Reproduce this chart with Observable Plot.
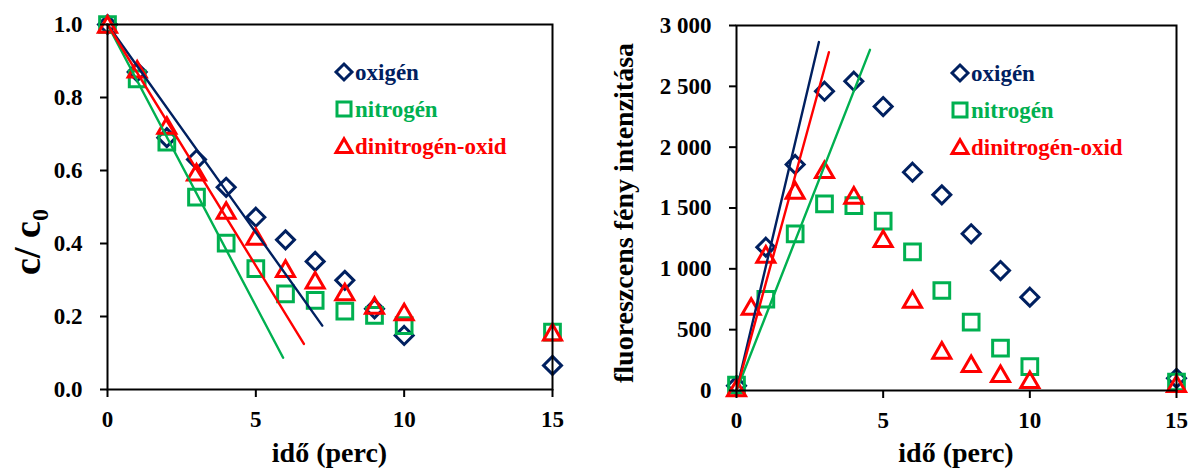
<!DOCTYPE html>
<html><head><meta charset="utf-8">
<script src="https://cdn.jsdelivr.net/npm/d3@7"></script>
<script src="https://cdn.jsdelivr.net/npm/@observablehq/plot@0.6"></script>
<style>
body{margin:0;background:#fff;}
#wrap{position:relative;width:1193px;height:470px;overflow:hidden;background:#fff;font-family:"Liberation Serif","Times New Roman",Tinos,"DejaVu Serif",serif;}
#wrap > svg, #wrap > div{position:absolute;top:0;}
#overlay{left:0;pointer-events:none;}
</style></head>
<body><div id="wrap"></div>
<script>
// ---- data ----
const seriesNames = ["oxigén", "nitrogén", "dinitrogén-oxid"];
const seriesColors = ["#002060", "#00B050", "#FF0000"];
const seriesSymbols = ["diamond2", "square2", "triangle2"];

// left panel: c/c0 vs time
const timeC = [0, 1, 2, 3, 4, 5, 6, 7, 8, 9, 10, 15];
const oxigenC = [1.0, 0.87, 0.69, 0.63, 0.554, 0.472, 0.41, 0.351, 0.299, 0.221, 0.148, 0.066];
const nitrogenC = [1.0, 0.851, 0.678, 0.527, 0.401, 0.331, 0.262, 0.244, 0.215, 0.203, 0.175, 0.157];
const n2oC = [1.0, 0.877, 0.723, 0.595, 0.49, 0.419, 0.331, 0.299, 0.267, 0.23, 0.212, 0.157];
const oxigenTrendC = [[0, 1.0], [7.24, 0.175]];
const nitrogenTrendC = [[0, 1.0], [5.92, 0.087]];
const n2oTrendC = [[0, 1.0], [6.62, 0.125]];

// right panel: fluorescence intensity vs time
const timeI = [0, 1, 2, 3, 4, 5, 6, 7, 8, 9, 10, 15];
const oxigenI = [40, 1178, 1858, 2460, 2542, 2334, 1794, 1608, 1288, 986, 767, 100];
const nitrogenI = [45, 750, 1288, 1534, 1520, 1392, 1140, 822, 562, 348, 197, 70];
const timeIn2o = [0, 0.5, 1, 2, 3, 4, 5, 6, 7, 8, 9, 10, 15];
const n2oI = [20, 690, 1118, 1644, 1814, 1603, 1247, 748, 329, 219, 137, 88, 55];
const oxigenTrendI = [[0, 0], [2.81, 2864]];
const nitrogenTrendI = [[0, 0], [4.55, 2800]];
const n2oTrendI = [[0, 0], [3.15, 2780]];

const xTicks = [0, 5, 10, 15];
const yTicksC = [0, 0.2, 0.4, 0.6, 0.8, 1.0];
const yTicksI = [0, 500, 1000, 1500, 2000, 2500, 3000];
const xLabel = "idő (perc)";
const yLabelI = "fluoreszcens fény intenzitása";

// ---- build ----
const FONT = "Liberation Serif, Times New Roman, Tinos, DejaVu Serif, serif";
const toRows = (t, v) => t.map((x, i) => ({t: x, v: v[i]}));
const toLine = (p) => p.map(([t, v]) => ({t, v}));
const dotR = [8.1, 10, 8.6];

function panel(opts) {
  const {series, trends, yDomain, yTicks, yFormat, width, margins} = opts;
  const marks = [];
  series.forEach((rows, i) => {
    marks.push(Plot.dot(rows, {x: "t", y: "v", symbol: () => seriesSymbols[i], r: dotR[i],
      stroke: seriesColors[i], strokeWidth: 3, fill: "none", dy: i === 2 ? 2.5 : 0}));
  });
  trends.forEach((rows, i) => {
    marks.push(Plot.line(rows, {x: "t", y: "v", stroke: seriesColors[i], strokeWidth: 2.4}));
  });
  marks.push(Plot.frame({stroke: "#000", strokeWidth: 2}));
  marks.push(Plot.axisX({ticks: xTicks, tickSize: 8, tickPadding: 13, label: null, fontSize: 23, strokeWidth: 2, tickFormat: d => String(d)}));
  marks.push(Plot.axisY({ticks: yTicks, tickSize: 7, tickPadding: 18, label: null, fontSize: 23, strokeWidth: 2, tickFormat: yFormat}));
  return Plot.plot({
    width, height: 470,
    marginLeft: margins[0], marginRight: margins[1], marginTop: margins[2], marginBottom: margins[3],
    x: {domain: [0, 15]},
    y: {domain: yDomain},
    symbol: {type: "identity"},
    style: {fontFamily: FONT, fontWeight: "bold", fontSize: "23px", color: "#000", background: "transparent", overflow: "visible"},
    marks
  });
}

const left = panel({
  series: [toRows(timeC, oxigenC), toRows(timeC, nitrogenC), toRows(timeC, n2oC)],
  trends: [toLine(oxigenTrendC), toLine(nitrogenTrendC), toLine(n2oTrendC)],
  yDomain: [0, 1], yTicks: yTicksC, yFormat: d3.format(".1f"),
  width: 596, margins: [107, 44, 24, 81]
});
const right = panel({
  series: [toRows(timeI, oxigenI), toRows(timeI, nitrogenI), toRows(timeIn2o, n2oI)],
  trends: [toLine(oxigenTrendI), toLine(nitrogenTrendI), toLine(n2oTrendI)],
  yDomain: [0, 3000], yTicks: yTicksI, yFormat: d => d3.format(",")(d).replace(/,/g, "\u00a0"),
  width: 597, margins: [140, 17, 25, 80]
});
const wrap = document.getElementById("wrap");
left.style.left = "0px";
right.style.left = "596px";
wrap.appendChild(left);
wrap.appendChild(right);
left.setAttribute("font-family", FONT);
right.setAttribute("font-family", FONT);

// ---- overlay: axis titles and legends ----
const ov = d3.select(wrap).append("svg").attr("id", "overlay")
  .attr("width", 1193).attr("height", 470)
  .attr("font-family", FONT).style("font-family", FONT).attr("font-weight", "bold");

// x titles
[[329.5, 462], [956, 462]].forEach(([x, y]) => {
  ov.append("text").attr("x", x).attr("y", y).attr("text-anchor", "middle")
    .attr("font-size", 28).text(xLabel);
});
// left y title  c/ c0
const yl = ov.append("text").attr("transform", "translate(40,242) rotate(-90)")
  .attr("text-anchor", "middle").attr("font-size", 38);
yl.append("tspan").text("c/ c");
yl.append("tspan").attr("font-size", 24).attr("dy", 8).text("0");
// right y title
ov.append("text").attr("transform", "translate(633,213) rotate(-90)")
  .attr("text-anchor", "middle").attr("font-size", 28).text(yLabelI);

// legends
const legSizes = [163, 250, 183];
const legSymbols = [d3.symbolDiamond2, d3.symbolSquare2, d3.symbolTriangle2];
[[344, 72], [960, 73]].forEach(([lx, ly]) => {
  seriesNames.forEach((name, i) => {
    const y = ly + i * 37;
    ov.append("path").attr("d", d3.symbol(legSymbols[i], legSizes[i])())
      .attr("transform", `translate(${lx},${y + (i === 2 ? 2 : 0)})`)
      .attr("fill", "none").attr("stroke", seriesColors[i]).attr("stroke-width", 3);
    ov.append("text").attr("x", lx + 11).attr("y", y + 8).attr("font-size", 23)
      .attr("fill", seriesColors[i]).text(name);
  });
});
</script>
</body></html>
